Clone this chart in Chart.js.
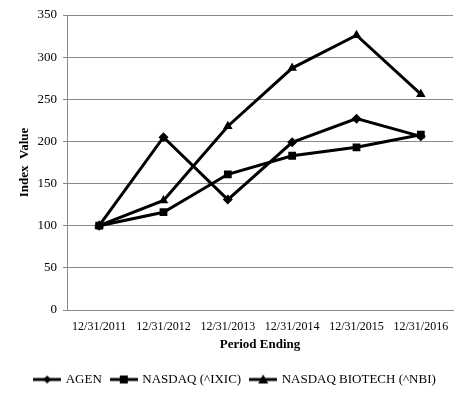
<!DOCTYPE html>
<html>
<head>
<meta charset="utf-8">
<script src="https://cdn.jsdelivr.net/npm/chart.js@4.4.1/dist/chart.umd.min.js"></script>
<style>
  html, body { margin: 0; padding: 0; background: #fff; }
  canvas { display: block; }
</style>
</head>
<body>
<canvas id="grafica" width="467" height="400"></canvas>
<script>
/* -----------------------------
   DATOS
----------------------------- */
const periodos = ["12/31/2011", "12/31/2012", "12/31/2013", "12/31/2014", "12/31/2015", "12/31/2016"];
const agen = [100, 205, 131, 199, 227, 206];
const nasdaq = [100, 116, 161, 183, 193, 208];
const nasdaqBiotech = [100, 130, 218, 287, 326, 256];
const nombresSeries = ["AGEN", "NASDAQ (^IXIC)", "NASDAQ BIOTECH (^NBI)"];

const FUENTE = "'Liberation Serif', 'Times New Roman', serif";
const GRIS = "#8a8a8a";

/* -----------------------------
   ICONOS DE LEYENDA (linea + marcador)
----------------------------- */
function iconoLeyenda(estilo) {
    const c = document.createElement("canvas");
    c.width = 28;
    c.height = 12;
    const ctx = c.getContext("2d");
    ctx.strokeStyle = "#000";
    ctx.lineWidth = 3;
    ctx.beginPath();
    ctx.moveTo(0, 6);
    ctx.lineTo(28, 6);
    ctx.stroke();
    ctx.fillStyle = "#000";
    ctx.beginPath();
    if (estilo === "rectRot") {
        ctx.moveTo(14, 2); ctx.lineTo(18, 6); ctx.lineTo(14, 10); ctx.lineTo(10, 6);
    } else if (estilo === "rect") {
        ctx.rect(10, 2, 8, 8);
    } else {
        ctx.moveTo(14, 1); ctx.lineTo(19, 10); ctx.lineTo(9, 10);
    }
    ctx.closePath();
    ctx.fill();
    return c;
}

const estilos = ["rectRot", "rect", "triangle"];
const radios = [5, 5.5, 5.5];

function serie(i, valores) {
    return {
        label: nombresSeries[i],
        data: valores,
        borderColor: "#000",
        backgroundColor: "#000",
        borderWidth: 3,
        pointStyle: estilos[i],
        pointRadius: radios[i],
        pointBorderWidth: 0,
        pointBackgroundColor: "#000",
        tension: 0
    };
}

// la leyenda del original esta centrada en todo el ancho, no solo en el area de datos
const moverLeyenda = {
    id: "moverLeyenda",
    afterLayout(chart) {
        chart.legend.left += 9;
        chart.legend.right += 9;
    }
};

new Chart(document.getElementById("grafica"), {
    type: "line",
    data: {
        labels: periodos,
        datasets: [serie(0, agen), serie(1, nasdaq), serie(2, nasdaqBiotech)]
    },
    plugins: [moverLeyenda],
    options: {
        responsive: false,
        animation: false,
        devicePixelRatio: 1,
        layout: { padding: { left: 0, right: 14, top: 15, bottom: 4 } },
        plugins: {
            tooltip: { enabled: false },
            legend: {
                position: "bottom",
                labels: {
                    color: "#000",
                    font: { family: FUENTE, size: 13 },
                    usePointStyle: true,
                    pointStyleWidth: 24,
                    boxHeight: 12,
                    padding: 10,
                    generateLabels: (chart) => chart.data.datasets.map((ds, i) => ({
                        text: ds.label,
                        pointStyle: iconoLeyenda(estilos[i]),
                        fillStyle: "#000",
                        strokeStyle: "#000",
                        lineWidth: 0,
                        hidden: false,
                        datasetIndex: i
                    }))
                }
            }
        },
        scales: {
            x: {
                offset: true,
                grid: { display: false },
                border: { display: true, color: GRIS, width: 1 },
                ticks: {
                    color: "#000",
                    font: { family: FUENTE, size: 12 },
                    maxRotation: 0,
                    autoSkip: false,
                    padding: 2
                },
                title: {
                    display: true,
                    text: "Period Ending",
                    color: "#000",
                    font: { family: FUENTE, size: 13, weight: "bold" },
                    padding: { top: 2, bottom: 11 }
                },
                afterFit: (scale) => { scale.height = 53; }
            },
            y: {
                min: 0,
                max: 350,
                ticks: {
                    stepSize: 50,
                    color: "#000",
                    font: { family: FUENTE, size: 13 },
                    padding: 6
                },
                grid: { color: GRIS, lineWidth: 1, tickLength: 4 },
                border: { display: true, color: GRIS, width: 1 },
                title: {
                    display: true,
                    text: "Index  Value",
                    color: "#000",
                    font: { family: FUENTE, size: 13, weight: "bold" },
                    padding: { top: 17, bottom: 0 }
                },
                afterFit: (scale) => { scale.width = 67; }
            }
        }
    }
});
</script>
</body>
</html>
